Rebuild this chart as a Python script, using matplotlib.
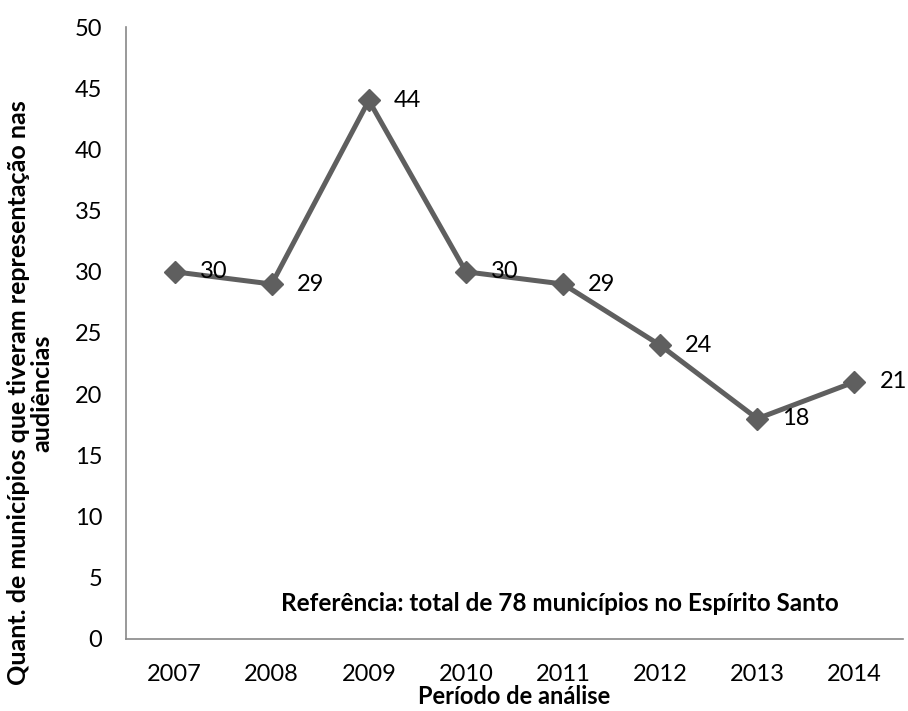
import matplotlib
matplotlib.use("Agg")
import matplotlib.pyplot as plt

years = ["2007", "2008", "2009", "2010", "2011", "2012", "2013", "2014"]
values = [30, 29, 44, 30, 29, 24, 18, 21]
yticks = [0, 5, 10, 15, 20, 25, 30, 35, 40, 45, 50]

plt.rcParams['font.family'] = ['Lato', 'DejaVu Sans']

fig = plt.figure(figsize=(9.08, 7.11), dpi=100)
ax = fig.add_axes([0.1388, 0.1013, 0.8557, 0.8607])

x = list(range(len(years)))
ax.plot(x, values, color='#5f5f5f', linewidth=3.6, marker='D', markersize=11.5,
        markerfacecolor='#5f5f5f', markeredgecolor='#5f5f5f', zorder=3)

for xi, v in zip(x, values):
    ax.annotate(str(v), (xi, v), xytext=(18, 0), textcoords='offset points',
                ha='left', va='center', fontsize=17, color='black', zorder=4)

ax.set_xlim(-0.5, len(years) - 0.5)
ax.set_ylim(0, 50)
ax.set_xticks(x)
ax.set_xticklabels(years)
ax.set_yticks(yticks)
ax.tick_params(axis='both', length=0, labelsize=17, colors='black')
ax.tick_params(axis='x', pad=18)
ax.tick_params(axis='y', pad=17)

for s in ['top', 'right']:
    ax.spines[s].set_visible(False)
for s in ['left', 'bottom']:
    ax.spines[s].set_color('#888888')
    ax.spines[s].set_linewidth(1.2)

fig.text(514 / 908, 1 - 697 / 711, 'Período de análise',
         ha='center', va='center', fontsize=17, fontweight='bold', color='black')

fig.text(30 / 908, 1 - 393 / 711,
         'Quant. de municípios que tiveram representação nas\naudiências',
         rotation=90, ha='center', va='center', multialignment='center',
         fontsize=18, fontweight='bold', linespacing=1.05, color='black')

ax.text(0.558, 0.058, 'Referência: total de 78 municípios no Espírito Santo',
        transform=ax.transAxes, ha='center', va='center', fontsize=17.5,
        fontweight='bold', color='black')

fig.savefig('out.png', dpi=100)
